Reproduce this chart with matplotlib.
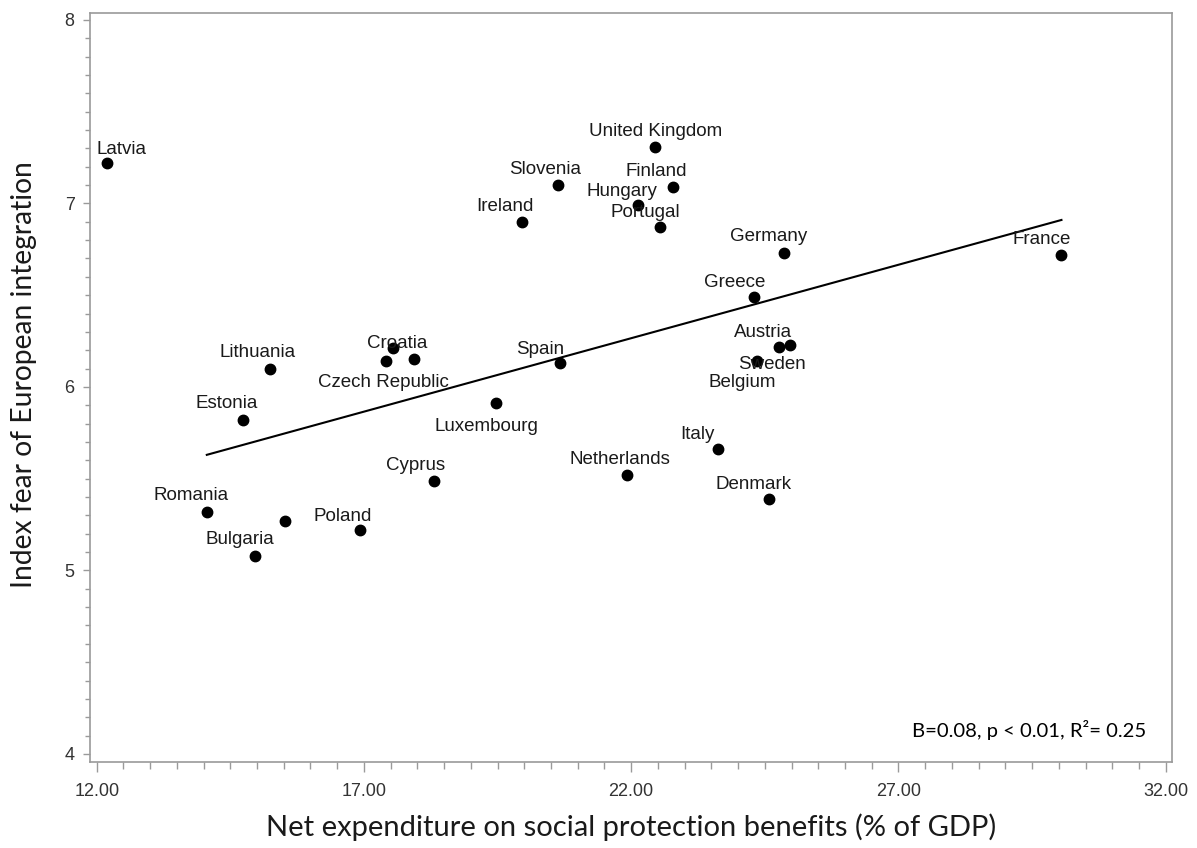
import matplotlib
matplotlib.use('Agg')
import matplotlib.pyplot as plt
from matplotlib.ticker import MultipleLocator, FormatStrFormatter

# country-level values: social protection spending (% of GDP) vs fear index
countries = ['Latvia', 'United Kingdom', 'Slovenia', 'Finland', 'Hungary',
             'Ireland', 'Portugal', 'Germany', 'Greece', 'France',
             'Austria', 'Sweden', 'Belgium', 'Italy', 'Denmark',
             'Netherlands', 'Spain', 'Luxembourg', 'Lithuania', 'Croatia',
             'Czech Republic', '', 'Estonia', 'Cyprus', 'Romania', '',
             'Poland', 'Bulgaria']
expenditure = [12.19, 22.45, 20.64, 22.79, 22.13,
               19.96, 22.53, 24.86, 24.30, 30.05,
               24.98, 24.77, 24.35, 23.63, 24.58,
               21.93, 20.67, 19.48, 15.24, 17.94,
               17.41, 17.55, 14.73, 18.31, 14.06, 15.52,
               16.93, 14.96]
fear_index = [7.22, 7.31, 7.10, 7.09, 6.99,
              6.90, 6.87, 6.73, 6.49, 6.72,
              6.23, 6.22, 6.14, 5.66, 5.39,
              5.52, 6.13, 5.91, 6.10, 6.15,
              6.14, 6.21, 5.82, 5.49, 5.32, 5.27,
              5.22, 5.08]

# fitted regression line (end points)
fit_x = [14.06, 30.05]
fit_y = [5.63, 6.91]

stats_text = 'B=0.08, p < 0.01, R²= 0.25'

# label offsets in pixels (dx, dy), dy positive = up
label_offsets = {
    'Latvia': (15, 14), 'United Kingdom': (0, 15), 'Slovenia': (-13, 16),
    'Finland': (-17, 15), 'Hungary': (-16, 14), 'Ireland': (-17, 15),
    'Portugal': (-14, 15), 'Germany': (-15, 16), 'Greece': (-19, 15),
    'France': (-20, 15), 'Austria': (-27, 12), 'Sweden': (-7, -18),
    'Belgium': (-15, -21), 'Italy': (-21, 15), 'Denmark': (-16, 14),
    'Netherlands': (-8, 16), 'Spain': (-20, 14), 'Luxembourg': (-10, -23),
    'Lithuania': (-12, 16), 'Croatia': (-17, 16), 'Czech Republic': (-2, -21),
    'Estonia': (-16, 16), 'Cyprus': (-18, 15), 'Romania': (-16, 16),
    'Poland': (-18, 14), 'Bulgaria': (-15, 16),
}

grey = '#9a9a9a'

fig = plt.figure(figsize=(11.97, 8.48), dpi=100)
ax = fig.add_axes([0.0752, 0.1014, 0.9039, 0.8833])

ax.plot(fit_x, fit_y, color='black', linewidth=1.5, zorder=2)
ax.plot(expenditure, fear_index, 'o', color='black', markersize=7.5,
        linestyle='none', zorder=3)

for name, xv, yv in zip(countries, expenditure, fear_index):
    if not name:
        continue
    dx, dy = label_offsets.get(name, (-16, 15))
    ax.annotate(name, (xv, yv), xytext=(dx, dy), textcoords='offset pixels',
                ha='center', va='center', fontsize=13.5,
                family='Liberation Sans', color='#1a1a1a', zorder=4)

ax.text(0.9765, 0.03, stats_text, transform=ax.transAxes, ha='right',
        va='bottom', fontsize=14.6, family='Lato', color='black')

ax.set_xlim(11.875, 32.118)
ax.set_ylim(3.956, 8.038)

ax.xaxis.set_major_locator(MultipleLocator(5))
ax.xaxis.set_minor_locator(MultipleLocator(0.5))
ax.xaxis.set_major_formatter(FormatStrFormatter('%.2f'))
ax.yaxis.set_major_locator(MultipleLocator(1))
ax.yaxis.set_minor_locator(MultipleLocator(0.1))
ax.yaxis.set_major_formatter(FormatStrFormatter('%d'))
ax.set_xticks([12, 17, 22, 27, 32])

for spine in ax.spines.values():
    spine.set_color(grey)
    spine.set_linewidth(1.2)

ax.tick_params(axis='x', which='major', length=7, width=1, color=grey,
               labelsize=13, labelcolor='#333333', pad=8)
ax.tick_params(axis='x', which='minor', length=5, width=1, color=grey)
ax.tick_params(axis='y', which='major', length=5, width=1, color=grey,
               labelsize=13, labelcolor='#333333', pad=6)
ax.tick_params(axis='y', which='minor', length=3.5, width=1, color=grey)
for lbl in ax.get_xticklabels() + ax.get_yticklabels():
    lbl.set_family('Liberation Sans')

ax.set_xlabel('Net expenditure on social protection benefits (% of GDP)',
              fontsize=21, family='Lato', color='#1a1a1a', labelpad=10)
ax.set_ylabel('Index fear of European integration', fontsize=20.3,
              family='Lato', color='#1a1a1a')
ax.yaxis.set_label_coords(-0.049, 0.517)

fig.savefig('out.png', dpi=100)
